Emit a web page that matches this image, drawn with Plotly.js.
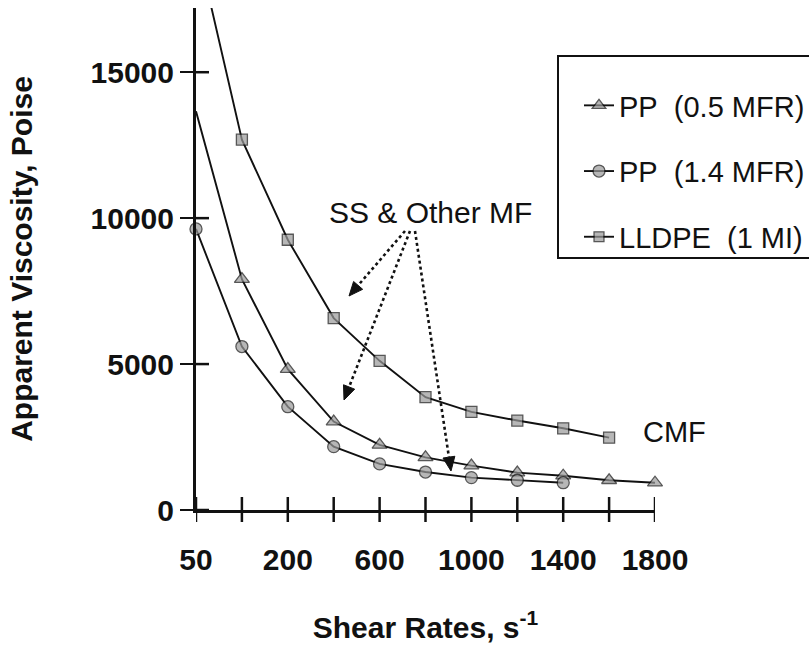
<!DOCTYPE html>
<html><head><meta charset="utf-8">
<script src="https://cdn.plot.ly/plotly-3.0.1.min.js"></script>
<style>html,body{margin:0;padding:0;background:#fff;}</style>
</head><body><div id="chart" style="width:809px;height:652px;"></div>
<script>
// ---- data ----
const shearRates = ["50","100","200","400","600","800","1000","1200","1400","1600","1800"];
const labeledShearRates = ["50","200","600","1000","1400","1800"];
const viscosityTicks = [0, 5000, 10000, 15000];
const viscosityTickText = ["0", "5000", "10000", "15000"];
const seriesNames = ["PP\u00a0\u00a0(0.5 MFR)", "PP\u00a0\u00a0(1.4 MFR)", "LLDPE\u00a0\u00a0(1 MI)"];
const ppHalfMFR = [13660, 7910, 4825, 3030, 2230, 1805, 1520, 1280, 1175, 1020, 935];
const ppOnePointFourMFR = [9630, 5600, 3540, 2170, 1580, 1300, 1110, 1020, 935];
const lldpeOneMI = [19500, 12690, 9260, 6575, 5110, 3865, 3360, 3065, 2800, 2480];
const noteText = "SS & Other MF";
const cmfText = "CMF";
const xTitle = "Shear Rates, s<sup>-1</sup>";
const yTitle = "Apparent Viscosity, Poise";

// ---- geometry ----
const W = 809, H = 652, L = 196, R = 154, T = 8, B = 142;
const plotW = W - L - R, plotH = H - T - B;
const yMax = 17200;
const px = x => (x - L) / plotW;
const py = y => (H - B - y) / plotH;

const FONT = "Liberation Sans, Arial, Helvetica, sans-serif";
const INK = "#111111";
const FILL = "#9a9a9a";

function sizes(vals, s, hideFirst) {
  return vals.map((v, i) => (hideFirst && i === 0) ? 0 : s);
}

function makeTrace(vals, name, symbol, size, hideFirst, group) {
  return {
    type: "scatter", mode: "lines+markers",
    x: shearRates.slice(0, vals.length), y: vals, name: name,
    legendgroup: group,
    line: {color: INK, width: 1.9},
    marker: {symbol: symbol, size: sizes(vals, size, hideFirst), color: FILL,
             line: {color: INK, width: 1.3}},
    cliponaxis: false
  };
}

const traces = [
  makeTrace(ppHalfMFR, seriesNames[0], "triangle-up", 13, true, "g1"),
  makeTrace(ppOnePointFourMFR, seriesNames[1], "circle", 12, false, "g2"),
  makeTrace(lldpeOneMI, seriesNames[2], "square", 11, true, "g3")
];

const shapes = [];
const annotations = [];

// crossing ticks on the shear-rate axis (one per category)
shearRates.forEach((c, i) => {
  shapes.push({type: "line", xref: "x", yref: "paper", x0: i, x1: i,
    y0: py(522), y1: py(497),
    line: {color: INK, width: 2.5}});
});
// inner halves of the viscosity ticks
viscosityTicks.forEach(v => {
  shapes.push({type: "line", xref: "x", yref: "y", y0: v, y1: v,
    xsizemode: "pixel", xanchor: 0, x0: 0, x1: 13,
    line: {color: INK, width: 2.5}});
});

// dotted callout arrows (pixel positions)
const arrows = [
  {s: [405, 231], e: [349, 296]},
  {s: [410, 231], e: [344, 400]},
  {s: [415, 231], e: [451, 471]}
];
arrows.forEach(a => {
  const dx = a.e[0] - a.s[0], dy = a.e[1] - a.s[1];
  const len = Math.hypot(dx, dy);
  const ux = dx / len, uy = dy / len;
  const headL = 14, headW = 6;
  const bx = a.e[0] - ux * headL, by = a.e[1] - uy * headL;
  shapes.push({type: "line", xref: "paper", yref: "paper",
    x0: px(a.s[0]), y0: py(a.s[1]), x1: px(bx), y1: py(by),
    line: {color: INK, width: 2.6, dash: "dot"}});
  const p1 = [bx - uy * headW, by + ux * headW];
  const p2 = [bx + uy * headW, by - ux * headW];
  shapes.push({type: "path", xref: "paper", yref: "paper",
    path: "M" + px(a.e[0]) + "," + py(a.e[1]) +
          " L" + px(p1[0]) + "," + py(p1[1]) +
          " L" + px(p2[0]) + "," + py(p2[1]) + " Z",
    fillcolor: INK, line: {color: INK, width: 1}});
});

// legend box (right edge runs off the canvas as in the reference)
shapes.push({type: "rect", xref: "paper", yref: "paper",
  x0: px(558), x1: px(840), y0: py(258), y1: py(56),
  line: {color: INK, width: 2}, fillcolor: "rgba(0,0,0,0)"});

annotations.push({xref: "paper", yref: "paper", x: px(430), y: py(213),
  text: noteText, showarrow: false, font: {family: FONT, size: 30, color: INK},
  xanchor: "center", yanchor: "middle"});
annotations.push({xref: "paper", yref: "paper", x: px(674), y: py(432),
  text: cmfText, showarrow: false, font: {family: FONT, size: 29, color: INK},
  xanchor: "center", yanchor: "middle"});

const layout = {
  width: W, height: H,
  margin: {l: L, r: R, t: T, b: B, autoexpand: false},
  paper_bgcolor: "#fff", plot_bgcolor: "#fff",
  font: {family: FONT, color: INK},
  showlegend: true,
  legend: {x: px(579), y: py(80), xanchor: "left", yanchor: "top",
    bgcolor: "rgba(0,0,0,0)", borderwidth: 0, tracegroupgap: 25,
    font: {family: FONT, size: 29, color: INK}, itemwidth: 30},
  xaxis: {
    type: "category", categoryorder: "array", categoryarray: shearRates,
    range: [0, shearRates.length - 1], fixedrange: true,
    tickmode: "array", tickvals: labeledShearRates, ticktext: labeledShearRates,
    ticks: "",
    showline: true, linecolor: INK, linewidth: 3,
    showgrid: false, zeroline: false, automargin: false,
    ticklabelstandoff: 21,
    tickfont: {family: FONT, size: 30, weight: "bold", color: INK},
    title: {text: xTitle, standoff: 42, font: {family: FONT, size: 30, weight: "bold", color: INK}}
  },
  yaxis: {
    range: [0, yMax], fixedrange: true,
    tickmode: "array", tickvals: viscosityTicks, ticktext: viscosityTickText,
    ticks: "outside", ticklen: 13, tickwidth: 2.5, tickcolor: INK,
    showline: true, linecolor: INK, linewidth: 3,
    showgrid: false, zeroline: false, automargin: false,
    ticklabelstandoff: 0,
    tickfont: {family: FONT, size: 30, weight: "bold", color: INK},
    title: {text: yTitle, standoff: 50, font: {family: FONT, size: 30, weight: "bold", color: INK}}
  },
  shapes: shapes,
  annotations: annotations
};

Plotly.newPlot("chart", traces, layout, {displayModeBar: false, staticPlot: true});
</script>
</body></html>
